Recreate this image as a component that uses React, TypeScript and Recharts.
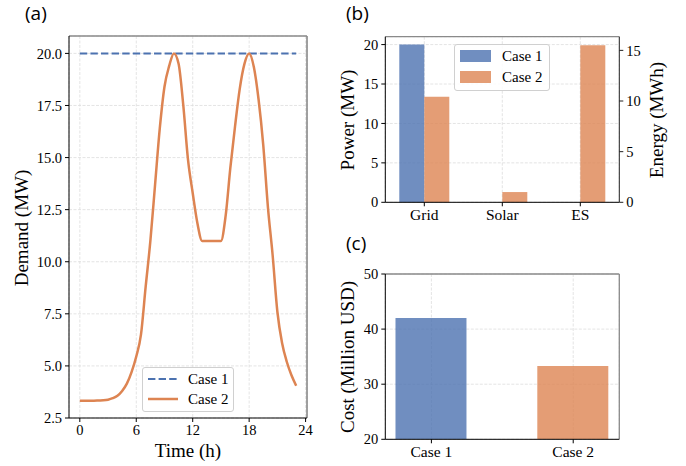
import React from 'react';
import {
  LineChart, Line, BarChart, Bar, XAxis, YAxis, CartesianGrid, Legend, ReferenceLine, Cell,
} from 'recharts';

// ---------- data ----------
const hours = [0, 0.5, 1, 1.5, 2, 2.5, 3, 3.5, 4, 4.5, 5, 5.5, 6, 6.5, 7, 7.5, 8, 8.5, 9, 9.5, 10, 10.5, 11, 11.5, 12, 12.5, 13, 13.5, 14, 14.5, 15, 15.5, 16, 16.5, 17, 17.5, 18, 18.5, 19, 19.5, 20, 20.5, 21, 21.5, 22, 22.5, 23];
const demandCase1 = [20, 20, 20, 20, 20, 20, 20, 20, 20, 20, 20, 20, 20, 20, 20, 20, 20, 20, 20, 20, 20, 20, 20, 20, 20, 20, 20, 20, 20, 20, 20, 20, 20, 20, 20, 20, 20, 20, 20, 20, 20, 20, 20, 20, 20, 20, 20];
const demandCase2 = [3.33, 3.33, 3.33, 3.33, 3.34, 3.35, 3.38, 3.45, 3.57, 3.8, 4.15, 4.7, 5.45, 6.5, 8.8, 11.0, 13.7, 16.4, 18.4, 19.4, 20.0, 19.5, 17.5, 14.9, 13.3, 11.85, 11.0, 11.0, 11.0, 11.0, 11.0, 12.2, 14.5, 16.5, 18.3, 19.5, 20.0, 19.35, 17.8, 15.6, 12.6, 10.3, 7.6, 6.1, 5.2, 4.55, 4.05];
const timeTicks = [0, 6, 12, 18, 24];
const demandTicks = [2.5, 5, 7.5, 10, 12.5, 15, 17.5, 20];

const sources = ['Grid', 'Solar', 'ES'];
const powerCase1 = [20, 0, 0];
const powerCase2 = [13.4, 1.3, null];
const energyCase2 = [null, null, 15.5];
const powerTicks = [0, 5, 10, 15, 20];
const energyTicks = [0, 5, 10, 15];

const cases = ['Case 1', 'Case 2'];
const costs = [42.0, 33.3];
const costTicks = [20, 30, 40, 50];

// ---------- styles ----------
const BLUE = '#4C72B0';
const ORANGE = '#DD8452';
const SERIF = "'Liberation Serif', 'Times New Roman', serif";
const SANS = "'Open Sans', 'Noto Sans', sans-serif";
const numTick = { fontSize: 14.5, fontFamily: SERIF, fill: '#000' };
const catTick = { fontSize: 15.5, fontFamily: SERIF, fill: '#000' };
const GRID = '#dddddd';
const SPINE_LIGHT = '#8a8a8a';

const demandData = hours.map((h, i) => ({ h, case1: demandCase1[i], case2: demandCase2[i] }));
const mixData = sources.map((s, i) => ({ src: s, case1: powerCase1[i], case2: powerCase2[i], energy: energyCase2[i] }));
const costData = cases.map((c, i) => ({ idx: i, name: c, cost: costs[i] }));

const legendText: React.CSSProperties = {
  position: 'absolute', fontFamily: SERIF, fontSize: 15, lineHeight: '16px', color: '#000', whiteSpace: 'nowrap',
};

const LineLegend = () => (
  <div style={{ position: 'relative', width: 92, height: 45, boxSizing: 'border-box', border: '1px solid #d0d0d0', borderRadius: 3, background: 'rgba(255,255,255,0.85)' }}>
    <svg width={40} height={45} style={{ position: 'absolute', left: 0, top: 0 }}>
      <line x1={5} x2={35} y1={11} y2={11} stroke={BLUE} strokeWidth={2} strokeDasharray="7.4 3.2" />
      <line x1={5} x2={35} y1={31} y2={31} stroke={ORANGE} strokeWidth={2.5} />
    </svg>
    <span style={{ ...legendText, left: 45, top: 3 }}>Case 1</span>
    <span style={{ ...legendText, left: 45, top: 23 }}>Case 2</span>
  </div>
);

const BarLegend = () => (
  <div style={{ position: 'relative', width: 96, height: 47, boxSizing: 'border-box', border: '1px solid #d0d0d0', borderRadius: 3, background: 'rgba(255,255,255,0.85)' }}>
    <div style={{ position: 'absolute', left: 5, top: 5, width: 31, height: 12, background: BLUE, opacity: 0.8 }} />
    <div style={{ position: 'absolute', left: 5, top: 26, width: 31, height: 12, background: ORANGE, opacity: 0.8 }} />
    <span style={{ ...legendText, left: 47, top: 3 }}>Case 1</span>
    <span style={{ ...legendText, left: 47, top: 24 }}>Case 2</span>
  </div>
);

export default function App() {
  return (
    <div style={{ position: 'absolute', left: 0, top: 0, width: 686, height: 466, background: '#fff', overflow: 'hidden' }}>
      {/* (a) Demand */}
      <div style={{ position: 'absolute', left: 0, top: 0 }}>
        <LineChart width={330} height={466} data={demandData} margin={{ top: 36, right: 23, bottom: 18, left: 20 }}>
          <CartesianGrid stroke={GRID} strokeDasharray="3 1.5" strokeWidth={0.8} />
          <XAxis dataKey="h" type="number" domain={[-1.15, 24.15]} ticks={timeTicks} tickSize={4} tickMargin={3}
            tick={numTick} stroke="#000" height={30} allowDataOverflow />
          <YAxis type="number" domain={[2.5, 20.835]} ticks={demandTicks} tickFormatter={(v: number) => v.toFixed(1)}
            tickSize={4} tickMargin={3} tick={numTick} stroke="#000" width={49} allowDataOverflow />
          <ReferenceLine y={20.835} stroke={SPINE_LIGHT} strokeWidth={1.3} />
          <ReferenceLine x={24.15} stroke={SPINE_LIGHT} strokeWidth={1.6} />
          <Line dataKey="case1" name="Case 1" type="linear" stroke={BLUE} strokeWidth={2} strokeDasharray="7.4 3.2" dot={false} isAnimationActive={false} />
          <Line dataKey="case2" name="Case 2" type="monotone" stroke={ORANGE} strokeWidth={2.5} dot={false} isAnimationActive={false} />
          <Legend layout="horizontal" verticalAlign="middle" align="center" content={() => <LineLegend />}
            wrapperStyle={{ left: 142, top: 367, width: 92, height: 45 }} />
        </LineChart>
      </div>

      {/* (b) Power / Energy */}
      <div style={{ position: 'absolute', left: 330, top: 0 }}>
        <BarChart width={356} height={240} data={mixData} margin={{ top: 36.7, right: 31.7, bottom: 12.7, left: 10 }}
          barCategoryGap={14} barGap={0}>
          <CartesianGrid yAxisId="left" stroke={GRID} strokeDasharray="3 1.5" strokeWidth={0.8} />
          <XAxis dataKey="src" tickSize={4} tickMargin={3} tick={catTick} stroke="#000" height={25} />
          <YAxis yAxisId="left" type="number" domain={[0, 21]} ticks={powerTicks} tickSize={4} tickMargin={3}
            tick={numTick} stroke="#000" width={45.3} />
          <YAxis yAxisId="right" orientation="right" type="number" domain={[0, 16.35]} ticks={energyTicks} tickSize={4}
            tickMargin={3} tick={numTick} stroke="#222" width={35} />
          <ReferenceLine yAxisId="left" y={21} stroke={SPINE_LIGHT} strokeWidth={1.3} />
          <Bar yAxisId="left" dataKey="case1" name="Case 1" stackId="s1" fill={BLUE} fillOpacity={0.8} isAnimationActive={false} />
          <Bar yAxisId="left" dataKey="case2" name="Case 2" stackId="s2" fill={ORANGE} fillOpacity={0.8} isAnimationActive={false} />
          <Bar yAxisId="right" dataKey="energy" name="ES energy" stackId="s2" fill={ORANGE} fillOpacity={0.8} legendType="none" isAnimationActive={false} />
          <Legend layout="horizontal" verticalAlign="middle" align="center" content={() => <BarLegend />}
            wrapperStyle={{ left: 124, top: 44, width: 96, height: 47 }} />
        </BarChart>
      </div>

      {/* (c) Cost */}
      <div style={{ position: 'absolute', left: 330, top: 230 }}>
        <BarChart width={356} height={236} data={costData} margin={{ top: 44, right: 66.7, bottom: 1.7, left: 10 }}>
          <CartesianGrid stroke={GRID} strokeDasharray="3 1.5" strokeWidth={0.8} />
          <XAxis dataKey="idx" type="number" domain={[-0.325, 1.325]} ticks={[0, 1]}
            tickFormatter={(v: number) => cases[v] ?? ''} tickSize={4} tickMargin={3} tick={catTick} stroke="#000" height={25} allowDataOverflow />
          <YAxis type="number" domain={[20, 50]} ticks={costTicks} tickSize={4} tickMargin={3} tick={numTick} stroke="#000" width={45.3} allowDataOverflow />
          <ReferenceLine y={50} stroke={SPINE_LIGHT} strokeWidth={1.3} />
          <ReferenceLine x={1.325} stroke={SPINE_LIGHT} strokeWidth={1.3} />
          <Bar dataKey="cost" barSize={71} isAnimationActive={false}>
            {costData.map((d, i) => (
              <Cell key={d.name} fill={i === 0 ? BLUE : ORANGE} fillOpacity={0.8} />
            ))}
          </Bar>
        </BarChart>
      </div>

      {/* titles */}
      <svg width={686} height={466} style={{ position: 'absolute', left: 0, top: 0, pointerEvents: 'none' }}>
        <text x={25} y={20} fontFamily={SANS} fontSize={19} fill="#000">(a)</text>
        <text x={346} y={20} fontFamily={SANS} fontSize={19} fill="#000">(b)</text>
        <text x={346} y={250} fontFamily={SANS} fontSize={19} fill="#000">(c)</text>
        <text x={188} y={457} textAnchor="middle" fontFamily={SERIF} fontSize={19} fill="#000">Time (h)</text>
        <text transform="translate(21,228) rotate(-90)" textAnchor="middle" dominantBaseline="central" fontFamily={SERIF} fontSize={19} fill="#000">Demand (MW)</text>
        <text transform="translate(347,120) rotate(-90)" textAnchor="middle" dominantBaseline="central" fontFamily={SERIF} fontSize={19} fill="#000">Power (MW)</text>
        <text transform="translate(656,120) rotate(-90)" textAnchor="middle" dominantBaseline="central" fontFamily={SERIF} fontSize={19} fill="#000">Energy (MWh)</text>
        <text transform="translate(347,357) rotate(-90)" textAnchor="middle" dominantBaseline="central" fontFamily={SERIF} fontSize={19} fill="#000">Cost (Million USD)</text>
      </svg>
    </div>
  );
}
